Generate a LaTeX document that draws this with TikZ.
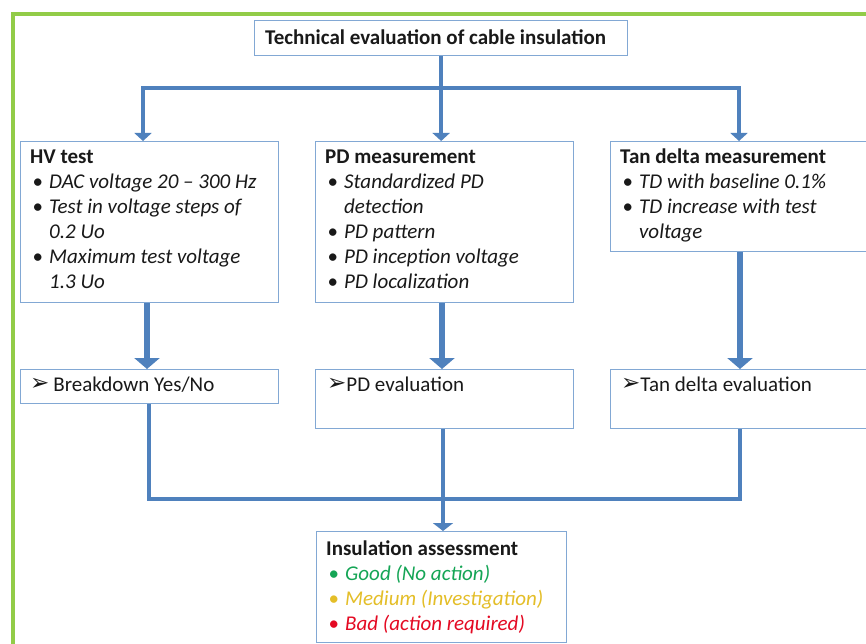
\documentclass[tikz,border=0pt]{standalone}
\usepackage{fontspec}
\setmainfont{Carlito}
\newfontfamily\symf{DejaVu Sans}
\usetikzlibrary{arrows.meta}
\definecolor{framegreen}{RGB}{146,204,72}
\definecolor{boxblue}{RGB}{130,168,212}
\definecolor{arrowblue}{RGB}{79,129,189}
\definecolor{txt}{RGB}{25,25,25}
\definecolor{goodc}{RGB}{20,165,85}
\definecolor{medc}{RGB}{228,190,40}
\definecolor{badc}{RGB}{228,10,35}
\newcommand{\bodyfont}{\fontsize{21}{25}\selectfont}
\newcommand{\bl}{\hspace*{2.5pt}\makebox[16.5pt][l]{\textbullet}}
\newcommand{\ind}{\hspace*{19pt}}
\newcommand{\pointer}{\raisebox{0.5pt}{\symf\fontsize{23}{25}\selectfont ➢}}
\begin{document}
\begin{tikzpicture}[x=1pt,y=-1pt,
  box/.style={draw=boxblue,line width=1.3pt,fill=white,rectangle,inner sep=0pt,anchor=north west},
  txtnode/.style={anchor=north west,inner sep=0pt,align=left,text=txt,font=\bodyfont},
  conn/.style={draw=arrowblue,line width=4.5pt,line join=miter},
  thickconn/.style={draw=arrowblue,line width=6.5pt},
  tipA/.tip={Triangle[width=17pt,length=8pt]},
  tipB/.tip={Triangle[width=25pt,length=11pt]},
  tipC/.tip={Triangle[width=20pt,length=8pt]}]
\clip (0,0) rectangle (866,644);
\fill[white] (0,0) rectangle (866,644);
% outer green frame
\draw[framegreen,line width=4pt] (12.5,650) -- (12.5,14.5) -- (870,14.5);

% boxes
\node[box,minimum width=373pt,minimum height=35pt] (title) at (254,20) {};
\node[box,minimum width=258pt,minimum height=161pt] (hv) at (20,141) {};
\node[box,minimum width=258pt,minimum height=161pt] (pd) at (315,141) {};
\node[box,minimum width=260pt,minimum height=110pt] (tan) at (610,141) {};
\node[box,minimum width=258pt,minimum height=34pt] (bd) at (20,369) {};
\node[box,minimum width=258pt,minimum height=59pt] (pev) at (315,369) {};
\node[box,minimum width=260pt,minimum height=59pt] (tev) at (610,369) {};
\node[box,minimum width=250pt,minimum height=111pt] (ins) at (316,531) {};

% texts
\node[txtnode] (titletxt) at (265,26.5) {\strut\textbf{Technical evaluation of cable insulation}};
\node[txtnode] (hvtxt) at (30,145.5) {\strut\textbf{HV test}\\
\bl\textit{DAC voltage 20 -- 300 Hz}\\
\bl\textit{Test in voltage steps of}\\
\ind\textit{0.2 Uo}\\
\bl\textit{Maximum test voltage}\\
\ind\textit{1.3 Uo}};
\node[txtnode] (pdtxt) at (325,145.5) {\strut\textbf{PD measurement}\\
\bl\textit{Standardized PD}\\
\ind\textit{detection}\\
\bl\textit{PD pattern}\\
\bl\textit{PD inception voltage}\\
\bl\textit{PD localization}};
\node[txtnode] (tantxt) at (620,145.5) {\strut\textbf{Tan delta measurement}\\
\bl\textit{TD with baseline 0.1\%}\\
\bl\textit{TD increase with test}\\
\ind\textit{voltage}};
\node[txtnode] (bdtxt) at (30,373.5) {\strut\pointer\hspace{4pt}Breakdown Yes/No};
\node[txtnode] (pevtxt) at (327,373.5) {\strut\pointer PD evaluation};
\node[txtnode] (tevtxt) at (621,373.5) {\strut\pointer Tan delta evaluation};
\node[txtnode] (instxt) at (326,537.5) {\strut\textbf{Insulation assessment}\\
\textcolor{goodc}{\bl\textit{Good (No action)}}\\
\textcolor{medc}{\bl\textit{Medium (Investigation)}}\\
\textcolor{badc}{\bl\textit{Bad (action required)}}};

% top connectors
\coordinate (split) at (title.south |- 0,88);
\coordinate (hl) at (143,88);
\coordinate (hr) at (739,88);
\draw[conn] (title.south) -- (split);
\draw[conn,{tipA}-{tipA}] (hl |- hv.north) -- (hl) -- (hr) -- (hr |- tan.north);
\draw[conn,-{tipA}] (split) -- (split |- pd.north);

% middle arrows
\draw[thickconn,-{tipB}] (hv.south -| 147,0) -- (bd.north -| 147,0);
\draw[thickconn,-{tipB}] (pd.south -| 442,0) -- (pev.north -| 442,0);
\draw[thickconn,-{tipB}] (tan.south -| 740,0) -- (tev.north -| 740,0);

% bottom connectors
\coordinate (merge) at (443,499);
\draw[conn] (bd.south -| 149,0) -- (merge -| 149,0) -- (merge -| 740,0) -- (tev.south -| 740,0);
\draw[conn,-{tipC}] (pev.south -| 443,0) -- (ins.north -| 443,0);
\end{tikzpicture}
\end{document}
